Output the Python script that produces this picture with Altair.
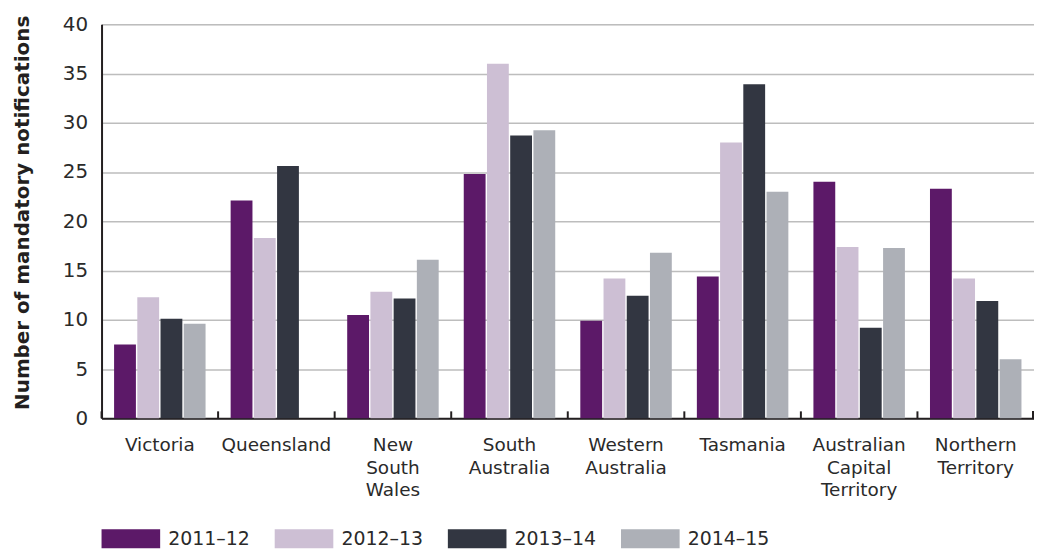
import altair as alt
import pandas as pd

states = ["Victoria", "Queensland", "New South Wales", "South Australia",
          "Western Australia", "Tasmania", "Australian Capital Territory",
          "Northern Territory"]
years = ["2011–12", "2012–13", "2013–14", "2014–15"]
colors = ["#5c1968", "#cdbfd4", "#323641", "#adb0b7"]

v_2011 = [7.5, 22.1, 10.5, 24.8, 9.9, 14.4, 24.0, 23.3]
v_2012 = [12.3, 18.3, 12.85, 36.0, 14.2, 28.0, 17.4, 14.2]
v_2013 = [10.1, 25.6, 12.15, 28.7, 12.45, 33.9, 9.2, 11.9]
v_2014 = [9.6, None, 16.1, 29.25, 16.8, 23.0, 17.3, 6.0]

rows = []
for yr, vals in zip(years, [v_2011, v_2012, v_2013, v_2014]):
    for s, v in zip(states, vals):
        if v is not None:
            rows.append({"state": s, "year": yr, "value": v})
df = pd.DataFrame(rows)
ticks_df = pd.DataFrame({"state": states})

W, H = 937, 396
FONT = "DejaVu Sans"
TXT = "#2a2a2a"

xscale = alt.Scale(domain=states, paddingInner=0, paddingOuter=0)

bars = alt.Chart(df).mark_bar().encode(
    x=alt.X("state:N", scale=xscale, sort=states,
            axis=alt.Axis(title=None, labelAngle=0, labelFont=FONT, labelFontSize=18.5,
                          labelColor=TXT, labelPadding=17, labelLineHeight=23,
                          labelExpr="split(datum.label, ' ')", ticks=False,
                          domainColor="#231f20", domainWidth=2, grid=False,
                          labelBaseline="top")),
    xOffset=alt.XOffset("year:N", sort=years,
                        scale=alt.Scale(domain=years, paddingInner=0.06, paddingOuter=0.54)),
    y=alt.Y("value:Q", scale=alt.Scale(domain=[0, 40], nice=False),
            axis=alt.Axis(title="Number of mandatory notifications", values=list(range(0, 45, 5)),
                          titleFont=FONT, titleFontSize=20, titleFontWeight="bold",
                          titleColor="#231f20", titlePadding=30, titleY=213 - 24,
                          labelFont=FONT, labelFontSize=20, labelColor=TXT,
                          labelPadding=14, ticks=False, domainColor="#231f20",
                          domainWidth=2, gridColor="#bdbdbd", gridWidth=1.5)),
    color=alt.Color("year:N", sort=years,
                    scale=alt.Scale(domain=years, range=colors),
                    legend=alt.Legend(title=None, orient="bottom", direction="horizontal",
                                      symbolType="M-1,-0.5H2.1V0.5H-1Z", symbolSize=1444,
                                      symbolStrokeWidth=0, labelFont=FONT, labelFontSize=19,
                                      labelColor=TXT, labelOffset=29, columnPadding=24,
                                      offset=20)),
)

tick_rules = alt.Chart(ticks_df).mark_rule(color="#231f20", strokeWidth=2).encode(
    x=alt.X("state:N", scale=xscale, sort=states, bandPosition=0),
    y=alt.value(H),
    y2=alt.value(H - 7),
)

end_rule = alt.Chart(ticks_df).mark_rule(color="#231f20", strokeWidth=2).encode(
    x=alt.value(W - 1),
    y=alt.value(H),
    y2=alt.value(H - 7),
)

chart = alt.layer(bars, tick_rules, end_rule).properties(
    width=W, height=H,
    padding={"left": 4, "top": 5, "right": 0, "bottom": 0},
).configure_view(stroke=None).configure(background="white")

chart.save("out.html", embed_options={"renderer": "svg", "actions": False})
